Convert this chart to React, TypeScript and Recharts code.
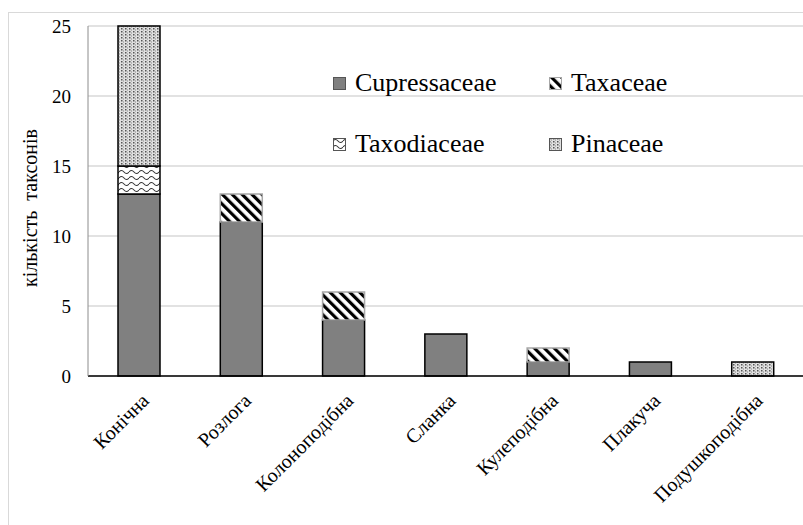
import { Bar, BarChart, CartesianGrid, XAxis, YAxis } from 'recharts';

const categories = ['Конічна', 'Розлога', 'Колоноподібна', 'Сланка', 'Кулеподібна', 'Плакуча', 'Подушкоподібна'];
const cupressaceae = [13, 11, 4, 3, 1, 1, 0];
const taxaceae = [0, 2, 2, 0, 1, 0, 0];
const taxodiaceae = [2, 0, 0, 0, 0, 0, 0];
const pinaceae = [10, 0, 0, 0, 0, 0, 1];
const yTicks = [0, 5, 10, 15, 20, 25];

const rows = categories.map((name, i) => ({
  name,
  Cupressaceae: cupressaceae[i],
  Taxaceae: taxaceae[i],
  Taxodiaceae: taxodiaceae[i],
  Pinaceae: pinaceae[i],
}));

const FONT = "'Liberation Serif', serif";

const SERIES = [
  { key: 'Cupressaceae', fill: '#808080', stroke: '#000' },
  { key: 'Taxaceae', fill: 'url(#stripes)', stroke: '#a6a6a6' },
  { key: 'Taxodiaceae', fill: 'url(#waves)', stroke: '#000' },
  { key: 'Pinaceae', fill: 'url(#dots)', stroke: '#000' },
];

const LEGEND_ORDER = ['Cupressaceae', 'Taxaceae', 'Taxodiaceae', 'Pinaceae'];

function Patterns() {
  return (
    <svg width={0} height={0} style={{ position: 'absolute' }}>
      <defs>
        <pattern id="stripes" patternUnits="userSpaceOnUse" width={7} height={7} patternTransform="rotate(-45)">
          <rect width={7} height={7} fill="#fff" />
          <rect width={3.2} height={7} fill="#000" />
        </pattern>
        <pattern id="waves" patternUnits="userSpaceOnUse" width={10} height={6}>
          <rect width={10} height={6} fill="#fff" />
          <path d="M0 3 Q2.5 0 5 3 T10 3" fill="none" stroke="#333" strokeWidth={1.1} />
        </pattern>
        <pattern id="dots" patternUnits="userSpaceOnUse" width={4} height={3}>
          <rect width={4} height={3} fill="#e0e0e0" />
          <rect x={0} y={0} width={1.5} height={1.5} fill="#555" />
          <rect x={2} y={1.5} width={1} height={1} fill="#888" />
        </pattern>
      </defs>
    </svg>
  );
}

function XTick({ x, y, payload }: any) {
  return (
    <g transform={`translate(${x + 1},${y + 8})`}>
      <text transform="rotate(-45)" textAnchor="end" dy="0.7em" fontFamily={FONT} fontSize={20} fill="#000">
        {payload.value}
      </text>
    </g>
  );
}

function LegendBox() {
  return (
    <div style={{ position: 'absolute', left: 324, top: 55, width: 440, height: 100, fontFamily: FONT, fontSize: 26, color: '#000' }}>
      {LEGEND_ORDER.map((key, i) => {
        const s = SERIES.find((d) => d.key === key)!;
        return (
          <div
            key={key}
            style={{
              position: 'absolute',
              left: (i % 2) * 216,
              top: Math.floor(i / 2) * 61,
              display: 'flex',
              alignItems: 'center',
              lineHeight: '30px',
              whiteSpace: 'nowrap',
            }}
          >
            <svg width={13} height={13} style={{ marginRight: 9 }}>
              <rect x={0.5} y={0.5} width={12} height={12} fill={s.fill} stroke={s.key === 'Taxaceae' ? '#a6a6a6' : '#555'} />
            </svg>
            {key}
          </div>
        );
      })}
    </div>
  );
}

export default function App() {
  return (
    <>
      <style>{'body{margin:0;overflow:hidden;background:#fff}'}</style>
      <Patterns />
      <div
        style={{
          position: 'absolute',
          left: 8,
          top: 12,
          width: 795,
          height: 513,
          borderLeft: '1px solid #d9d9d9',
          borderTop: '1px solid #d9d9d9',
          fontFamily: FONT,
        }}
      >
        <BarChart width={795} height={513} data={rows} margin={{ top: 13, right: 0, bottom: 0, left: 0 }} barSize={42}>
          <CartesianGrid vertical={false} stroke="#d9d9d9" strokeWidth={1.3} />
          <XAxis
            dataKey="name"
            interval={0}
            height={150}
            tickLine={false}
            axisLine={{ stroke: '#000', strokeWidth: 1.5 }}
            tick={<XTick />}
          />
          <YAxis
            width={79}
            domain={[0, 25]}
            ticks={yTicks}
            tickLine={false}
            tickMargin={11}
            axisLine={{ stroke: '#8c8c8c', strokeWidth: 1 }}
            tick={{ fontFamily: FONT, fontSize: 19, fill: '#000' }}
            label={{
              content: () => (
                <text
                  x={28}
                  y={195}
                  transform="rotate(-90 28 195)"
                  textAnchor="middle"
                  fontFamily={FONT}
                  fontSize={20}
                  fill="#000"
                  style={{ whiteSpace: 'pre' }}
                >
                  {'кількість  таксонів'}
                </text>
              ),
            }}
          />
          {SERIES.map((s) => (
            <Bar
              key={s.key}
              dataKey={s.key}
              stackId="a"
              fill={s.fill}
              stroke={s.stroke}
              strokeWidth={1.5}
              isAnimationActive={false}
            />
          ))}
        </BarChart>
        <LegendBox />
      </div>
    </>
  );
}
